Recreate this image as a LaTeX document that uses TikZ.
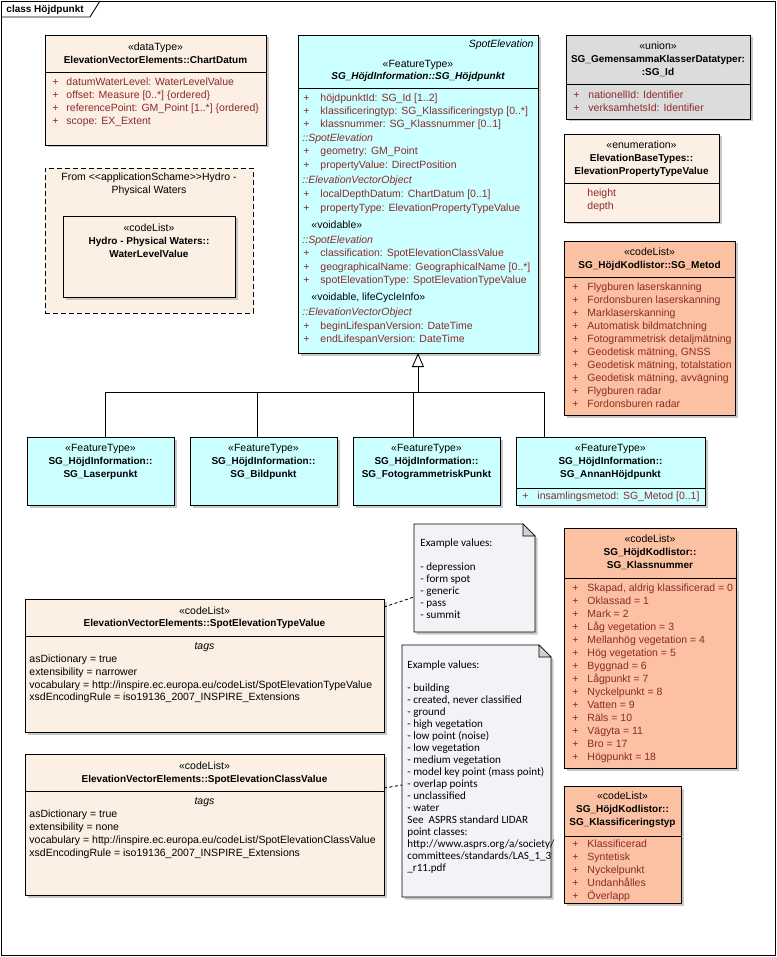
\documentclass[tikz,border=0pt]{standalone}
\usepackage{fontspec}
\setmainfont{Liberation Sans}
\newfontfamily\notefont{Carlito}
\usetikzlibrary{arrows.meta,shadows}

\definecolor{beigefill}{HTML}{FBF0E3}
\definecolor{cyanfill}{HTML}{CCFFFF}
\definecolor{greyfill}{HTML}{DCDCDC}
\definecolor{salmonfill}{HTML}{FCC1A2}
\definecolor{notefill}{HTML}{F4F2F6}
\definecolor{attrred}{HTML}{8C2A2A}

\tikzset{
  umlbox/.style={draw, inner sep=0pt, outer sep=0pt, anchor=north west,
    drop shadow={shadow xshift=2.5pt, shadow yshift=-2.5pt, fill=black!22, opacity=1}},
  stereo/.style={anchor=mid, inner sep=0pt},
  title/.style={stereo, font=\fontsize{10}{12}\selectfont\bfseries},
  attr/.style={anchor=mid west, inner sep=0pt, text=attrred},
  tagline/.style={anchor=mid west, inner sep=0pt},
  notearea/.style={inner sep=0pt, outer sep=0pt, anchor=north west},
  noteshape/.style={draw, fill=notefill,
    drop shadow={shadow xshift=2.5pt, shadow yshift=-2.5pt, fill=black!22, opacity=1}},
  notefold/.style={draw, fill=black!18, line width=0.6pt},
  notetext/.style={anchor=mid west, inner sep=0pt, font=\notefont\fontsize{11.1}{12}\selectfont},
  notelink/.style={dash pattern=on 3pt off 2.5pt},
}

\begin{document}
\fontsize{10.5}{12.5}\selectfont
\begin{tikzpicture}[x=1pt,y=-1pt,line width=0.9pt]
    \useasboundingbox (0,0) rectangle (776,957);
    % frame
    \draw (1,1) rectangle (775,955);
    \draw (1,17) -- (90,17) -- (100,1);
    \node[tagline, font=\fontsize{10}{12}\selectfont\bfseries] (frametitle) at (6,10) {class Höjdpunkt};

    % ChartDatum
    \node[umlbox, fill=beigefill, minimum width=221pt, minimum height=110pt] (chartdatum) at (45,35) {};
    \draw (45,72) -- (266,72);
    \node[stereo] (chartdatum-st) at (155.5,48) {«dataType»};
    \node[title] (chartdatum-name) at (155.5,61) {ElevationVectorElements::ChartDatum};
    \foreach \y/\txt [count=\i] in {83/{datumWaterLevel: WaterLevelValue}, 96/{offset: Measure [0..*] \{ordered\}},
        109/{referencePoint: GM\_Point [1..*] \{ordered\}}, 122/{scope: EX\_Extent}}
      {\node[attr] (chartdatum-p\i) at (52,\y) {+}; \node[attr] (chartdatum-a\i) at (66,\y) {\txt};}

    % Hydro package
    \node[draw, dash pattern=on 5pt off 3pt, fill=beigefill, inner sep=0pt, outer sep=0pt, anchor=north west,
      minimum width=208pt, minimum height=145pt] (hydropkg) at (45,168) {};
    \node[stereo] (hydropkg-l1) at (149,178) {From <\kern0pt<applicationSchame>\kern0pt>Hydro -};
    \node[stereo] (hydropkg-l2) at (149,191) {Physical Waters};
    \node[umlbox, fill=beigefill, minimum width=172pt, minimum height=81pt] (waterlevel) at (63,216) {};
    \node[stereo] (waterlevel-st) at (149,229) {«codeList»};
    \node[title] (waterlevel-n1) at (149,242) {Hydro - Physical Waters::};
    \node[title] (waterlevel-n2) at (149,255) {WaterLevelValue};

    % SG_Hoejdpunkt
    \node[umlbox, fill=cyanfill, minimum width=240pt, minimum height=318pt] (hoejd) at (298,35) {};
    \draw (298,88) -- (538,88);
    \node[stereo, anchor=mid east, font=\itshape] (hoejd-parent) at (534,45) {SpotElevation};
    \node[stereo] (hoejd-st) at (418,65) {«FeatureType»};
    \node[title, font=\fontsize{10}{12}\selectfont\bfseries\itshape] (hoejd-name) at (418,77) {SG\_HöjdInformation::SG\_Höjdpunkt};
    \foreach \y/\txt [count=\i] in {99/{höjdpunktId: SG\_Id [1..2]}, 112/{klassificeringtyp: SG\_Klassificeringstyp [0..*]},
        125/{klassnummer: SG\_Klassnummer [0..1]}, 152/{geometry: GM\_Point}, 166/{propertyValue: DirectPosition},
        195/{localDepthDatum: ChartDatum [0..1]}, 209/{propertyType: ElevationPropertyTypeValue},
        254/{classification: SpotElevationClassValue}, 268/{geographicalName: GeographicalName [0..*]},
        281/{spotElevationType: SpotElevationTypeValue}, 327/{beginLifespanVersion: DateTime},
        340/{endLifespanVersion: DateTime}}
      {\node[attr] (hoejd-p\i) at (303,\y) {+}; \node[attr] (hoejd-a\i) at (320,\y) {\txt};}
    \node[attr, font=\itshape] (hoejd-sec1) at (302,139) {::SpotElevation};
    \node[attr, font=\itshape] (hoejd-sec2) at (302,181) {::ElevationVectorObject};
    \node[tagline] (hoejd-void1) at (311,226) {«voidable»};
    \node[attr, font=\itshape] (hoejd-sec3) at (302,241) {::SpotElevation};
    \node[tagline] (hoejd-void2) at (311,298) {«voidable, lifeCycleInfo»};
    \node[attr, font=\itshape] (hoejd-sec4) at (302,313) {::ElevationVectorObject};

    % SG_Id
    \node[umlbox, fill=greyfill, minimum width=184pt, minimum height=84pt] (sgid) at (566,35) {};
    \draw (566,84) -- (750,84);
    \node[stereo] (sgid-st) at (658,47) {«union»};
    \node[title] (sgid-n1) at (658,60) {SG\_GemensammaKlasserDatatyper:};
    \node[title] (sgid-n2) at (658,73) {:SG\_Id};
    \node[attr] (sgid-p1) at (573,96) {+};
    \node[attr] (sgid-a1) at (588,96) {nationellId: Identifier};
    \node[attr] (sgid-p2) at (573,109) {+};
    \node[attr] (sgid-a2) at (588,109) {verksamhetsId: Identifier};

    % ElevationPropertyTypeValue
    \node[umlbox, fill=beigefill, minimum width=155pt, minimum height=88pt] (proptype) at (564,134) {};
    \draw (564,183) -- (719,183);
    \node[stereo] (proptype-st) at (641.5,146) {«enumeration»};
    \node[title] (proptype-n1) at (641.5,159) {ElevationBaseTypes::};
    \node[title] (proptype-n2) at (641.5,172) {ElevationPropertyTypeValue};
    \node[attr] (proptype-a1) at (587,194) {height};
    \node[attr] (proptype-a2) at (587,207) {depth};

    % SG_Metod
    \node[umlbox, fill=salmonfill, minimum width=171pt, minimum height=174pt] (metod) at (564,241) {};
    \draw (564,277) -- (735,277);
    \node[stereo] (metod-st) at (649.5,253) {«codeList»};
    \node[title] (metod-name) at (649.5,266) {SG\_HöjdKodlistor::SG\_Metod};
    \foreach \txt [count=\i] in {Flygburen laserskanning, Fordonsburen laserskanning, Marklaserskanning,
        Automatisk bildmatchning, Fotogrammetrisk detaljmätning, {Geodetisk mätning, GNSS},
        {Geodetisk mätning, totalstation}, {Geodetisk mätning, avvägning}, Flygburen radar, Fordonsburen radar}
      {\node[attr] (metod-p\i) at (572,{288+13*(\i-1)}) {+}; \node[attr] (metod-a\i) at (587,{288+13*(\i-1)}) {\txt};}

    % subtypes
    \node[umlbox, fill=cyanfill, minimum width=147pt, minimum height=68pt] (laser) at (27,437) {};
    \node[stereo] (laser-st) at (100.5,449) {«FeatureType»};
    \node[title] (laser-n1) at (100.5,462) {SG\_HöjdInformation::};
    \node[title] (laser-n2) at (100.5,475) {SG\_Laserpunkt};
    \node[umlbox, fill=cyanfill, minimum width=147pt, minimum height=68pt] (bild) at (190,437) {};
    \node[stereo] (bild-st) at (263.5,449) {«FeatureType»};
    \node[title] (bild-n1) at (263.5,462) {SG\_HöjdInformation::};
    \node[title] (bild-n2) at (263.5,475) {SG\_Bildpunkt};
    \node[umlbox, fill=cyanfill, minimum width=147pt, minimum height=68pt] (foto) at (353,437) {};
    \node[stereo] (foto-st) at (426.5,449) {«FeatureType»};
    \node[title] (foto-n1) at (426.5,462) {SG\_HöjdInformation::};
    \node[title] (foto-n2) at (426.5,475) {SG\_FotogrammetriskPunkt};
    \node[umlbox, fill=cyanfill, minimum width=189pt, minimum height=68pt] (annan) at (516,437) {};
    \draw (516,488) -- (705,488);
    \node[stereo] (annan-st) at (610.5,449) {«FeatureType»};
    \node[title] (annan-n1) at (610.5,462) {SG\_HöjdInformation::};
    \node[title] (annan-n2) at (610.5,475) {SG\_AnnanHöjdpunkt};
    \node[attr] (annan-p1) at (522,497) {+};
    \node[attr] (annan-a1) at (537,497) {insamlingsmetod: SG\_Metod [0..1]};

    % generalization
    \coordinate (genjoin) at (418,392);
    \draw[-{Triangle[open, fill=white, length=14pt, width=12pt]}] (genjoin) -- (hoejd.south);
    \draw (105,0 |- laser.north) |- (genjoin);
    \draw (257,0 |- bild.north) |- (genjoin);
    \draw (413,0 |- foto.north) |- (genjoin);
    \draw (544,0 |- annan.north) |- (genjoin);

    % SG_Klassnummer
    \node[umlbox, fill=salmonfill, minimum width=172pt, minimum height=240pt] (klassnr) at (564,528) {};
    \draw (564,578) -- (736,578);
    \node[stereo] (klassnr-st) at (650,540) {«codeList»};
    \node[title] (klassnr-n1) at (650,553) {SG\_HöjdKodlistor::};
    \node[title] (klassnr-n2) at (650,566) {SG\_Klassnummer};
    \foreach \txt [count=\i] in {{Skapad, aldrig klassificerad = 0}, Oklassad = 1, Mark = 2, Låg vegetation = 3,
        Mellanhög vegetation = 4, Hög vegetation = 5, Byggnad = 6, Lågpunkt = 7, Nyckelpunkt = 8,
        Vatten = 9, Räls = 10, Vägyta = 11, Bro = 17, Högpunkt = 18}
      {\node[attr] (klassnr-p\i) at (572,{589+13*(\i-1)}) {+}; \node[attr] (klassnr-a\i) at (587,{589+13*(\i-1)}) {\txt};}

    % SG_Klassificeringstyp
    \node[umlbox, fill=salmonfill, minimum width=117pt, minimum height=117pt] (klasstyp) at (564,786) {};
    \draw (564,836) -- (681,836);
    \node[stereo] (klasstyp-st) at (622.5,797) {«codeList»};
    \node[title] (klasstyp-n1) at (622.5,810) {SG\_HöjdKodlistor::};
    \node[title] (klasstyp-n2) at (622.5,823) {SG\_Klassificeringstyp};
    \foreach \txt [count=\i] in {Klassificerad, Syntetisk, Nyckelpunkt, Undanhålles, Överlapp}
      {\node[attr] (klasstyp-p\i) at (572,{845+13*(\i-1)}) {+}; \node[attr] (klasstyp-a\i) at (587,{845+13*(\i-1)}) {\txt};}

    % SpotElevationTypeValue
    \node[umlbox, fill=beigefill, minimum width=359pt, minimum height=133pt] (typevalue) at (25,599) {};
    \draw (25,636) -- (384,636);
    \node[stereo] (typevalue-st) at (204.5,612) {«codeList»};
    \node[title] (typevalue-name) at (204.5,624) {ElevationVectorElements::SpotElevationTypeValue};
    \node[stereo, font=\itshape] (typevalue-tags) at (204.5,647) {tags};
    \foreach \y/\txt [count=\i] in {660/{asDictionary = true}, 673/{extensibility = narrower},
        686/{vocabulary = http://inspire.ec.europa.eu/codeList/SpotElevationTypeValue},
        698/{xsdEncodingRule = iso19136\_2007\_INSPIRE\_Extensions}}
      {\node[tagline] (typevalue-t\i) at (29,\y) {\txt};}

    % SpotElevationClassValue
    \node[umlbox, fill=beigefill, minimum width=359pt, minimum height=141pt] (classvalue) at (25,754) {};
    \draw (25,791) -- (384,791);
    \node[stereo] (classvalue-st) at (204.5,767) {«codeList»};
    \node[title] (classvalue-name) at (204.5,780) {ElevationVectorElements::SpotElevationClassValue};
    \node[stereo, font=\itshape] (classvalue-tags) at (204.5,802) {tags};
    \foreach \y/\txt [count=\i] in {815/{asDictionary = true}, 828/{extensibility = none},
        841/{vocabulary = http://inspire.ec.europa.eu/codeList/SpotElevationClassValue},
        854/{xsdEncodingRule = iso19136\_2007\_INSPIRE\_Extensions}}
      {\node[tagline] (classvalue-t\i) at (29,\y) {\txt};}

    % notes
    \node[notearea, minimum width=121pt, minimum height=108pt] (typenote) at (414,524) {};
    \filldraw[noteshape] (typenote.north west) -- ([xshift=-12pt]typenote.north east) -- ([yshift=-12pt]typenote.north east)
      -- (typenote.south east) -- (typenote.south west) -- cycle;
    \filldraw[notefold] ([xshift=-12pt]typenote.north east) -- ([xshift=-12pt,yshift=-12pt]typenote.north east)
      -- ([yshift=-12pt]typenote.north east) -- cycle;
    \foreach \y/\txt [count=\i] in {544/{Example values:}, 568/{- depression}, 580/{- form spot},
        592/{- generic}, 604/{- pass}, 616/{- summit}}
      {\node[notetext] (typenote-l\i) at (420,\y) {\txt};}

    \node[notearea, minimum width=149pt, minimum height=252pt] (classnote) at (402,645) {};
    \filldraw[noteshape] (classnote.north west) -- ([xshift=-12pt]classnote.north east) -- ([yshift=-12pt]classnote.north east)
      -- (classnote.south east) -- (classnote.south west) -- cycle;
    \filldraw[notefold] ([xshift=-12pt]classnote.north east) -- ([xshift=-12pt,yshift=-12pt]classnote.north east)
      -- ([yshift=-12pt]classnote.north east) -- cycle;
    \node[notetext] (classnote-l0) at (407,666) {Example values:};
    \foreach \txt [count=\i] in {- building, {- created, never classified}, - ground, - high vegetation,
        - low point (noise), - low vegetation, - medium vegetation, - model key point (mass point),
        - overlap points, - unclassified, - water, See\ \ ASPRS standard LIDAR, point classes:,
        http://www.asprs.org/a/society/, committees/standards/LAS\_1\_3, \_r11.pdf}
      {\node[notetext] (classnote-l\i) at (407,{689+12*(\i-1)}) {\txt};}

    \draw[notelink] ([yshift=-8pt]typevalue.north east) -- ([yshift=-73pt]typenote.north west);
    \draw[notelink] ([yshift=-34pt]classvalue.north east) -- ([yshift=-140pt]classnote.north west);
\end{tikzpicture}
\end{document}
